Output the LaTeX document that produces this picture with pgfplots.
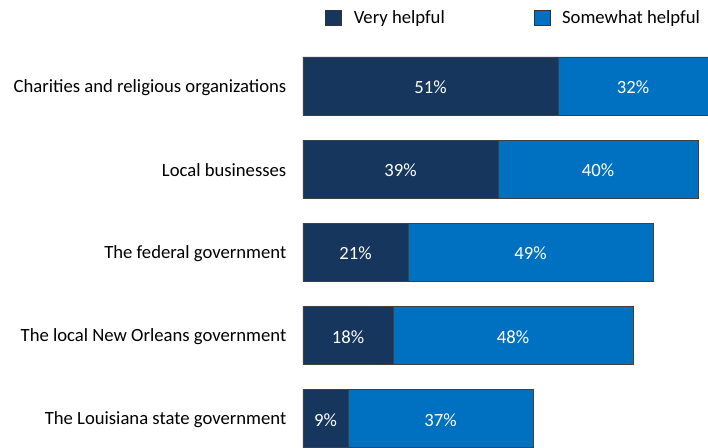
\documentclass[border=0pt]{standalone}
\usepackage{fontspec}
\setmainfont{Carlito}
\usepackage{pgfplots}
\pgfplotsset{compat=1.18}
\definecolor{navy}{RGB}{23,54,93}
\definecolor{midblue}{RGB}{0,112,192}
\begin{document}
\begin{tikzpicture}[x=0.75pt,y=0.75pt]
\pgfplotsset{
  base/.style={
    at={(0,0)}, anchor=south west,
    scale only axis, width=303.75pt, height=335.25pt,
    xmin=0, xmax=81, ymin=0.657, ymax=6.035,
    axis line style={draw=none}, xtick=\empty,
    tick style={draw=none},
    font=\fontsize{14}{16}\selectfont,
  }
}
\begin{axis}[base,
  xbar stacked, bar width=0.7,
  ytick={1,2,3,4,5},
  yticklabels={The Louisiana state government, The local New Orleans government, The federal government, Local businesses, Charities and religious organizations},
  yticklabel style={xshift=-9pt, yshift=-1pt},
  legend columns=2,
  legend style={draw=none, at={(0.054,0.983)}, anchor=north west, font=\fontsize{14}{16}\selectfont,
    inner sep=0pt,
    nodes={inner xsep=0pt},
    /tikz/column 1/.style={column sep=9.5pt},
    /tikz/column 2/.style={column sep=67pt},
    /tikz/column 3/.style={column sep=9pt}},
  legend image code/.code={\draw[#1, draw=black!80] (0pt,-5.8pt) rectangle (11.6pt,5.8pt);},
]
\addplot[fill=navy, draw=black!75] coordinates {(9,1) (18,2) (21,3) (39,4) (51,5)};
\addplot[fill=midblue, draw=black!75] coordinates {(37,1) (48,2) (49,3) (40,4) (32,5)};
\legend{Very helpful, Somewhat helpful}
\end{axis}
\begin{axis}[base, ytick=\empty]
\addplot[only marks, mark size=0pt, nodes near coords, point meta=explicit symbolic,
  nodes near coords style={anchor=center, text=white, yshift=-1pt, font=\fontsize{14}{16}\selectfont}]
  coordinates {
  (4.5,1) [9\%] (27.5,1) [37\%]
  (9,2) [18\%] (42,2) [48\%]
  (10.5,3) [21\%] (45.5,3) [49\%]
  (19.5,4) [39\%] (59,4) [40\%]
  (25.5,5) [51\%] (66,5) [32\%]
  };
\end{axis}
\pgfresetboundingbox
\path[use as bounding box] (-303,0) rectangle (405,447);
\end{tikzpicture}
\end{document}
